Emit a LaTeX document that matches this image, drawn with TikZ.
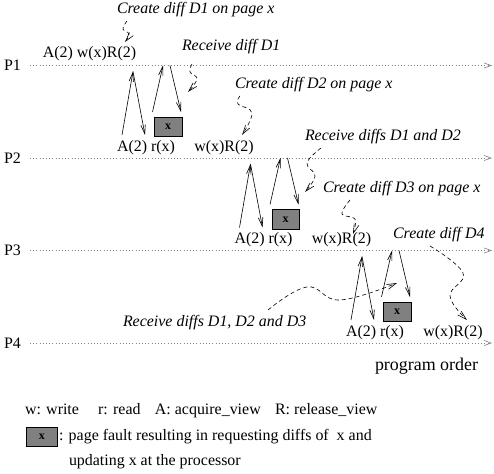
\documentclass[tikz,border=0pt]{standalone}
\usepackage{fontspec}
\setmainfont{Liberation Serif}
\usetikzlibrary{arrows.meta}
\begin{document}
\begin{tikzpicture}[x=1bp,y=-1bp,
  txt/.style={inner sep=0pt,outer sep=0pt,font=\fontsize{16}{19}\selectfont},
  itxt/.style={txt,font=\fontsize{16}{19}\selectfont\itshape},
  pline/.style={gray,line width=0.8bp,dash pattern=on 0.8bp off 2.4bp,-{Straight Barb[length=7bp,width=5bp,line width=0.6bp]}},
  msg/.style={line width=0.6bp,-{Straight Barb[length=9bp,width=4.5bp]}},
  squig/.style={line width=0.6bp,dash pattern=on 4bp off 3bp,-{Straight Barb[length=9bp,width=5bp]}},
  fault/.style={draw=black,fill=black!50,line width=0.6bp,minimum width=27.5bp,minimum height=19bp,inner sep=0pt,font=\fontsize{12}{14}\selectfont\bfseries}
]
\useasboundingbox (0,0) rectangle (494,474);

% process lines
\foreach \i/\y in {1/65.5,2/158,3/250.5,4/343}{
  \node[txt] (P\i) at (12.5,\y) {P\i};
  \coordinate (ps\i) at (30,\y);
  \coordinate (pe\i) at (492,\y);
  \draw[pline] (ps\i) -- (pe\i);
}

% P1 labels
\node[txt] (awr1) at (89.5,54) {A(2) w(x)R(2)};

% blocks
\foreach \b/\dx/\dy in {1/0/0,2/117.5/92.5,3/229/185}{
  \begin{scope}[shift={(\dx,\dy)}]
    \coordinate (a1s\b) at (122,135);
    \coordinate (top1\b) at (133,71.5);
    \coordinate (a2e\b) at (145,135);
    \coordinate (a3s\b) at (152.5,112);
    \coordinate (top2\b) at (163,65.5);
    \coordinate (top3\b) at (170,65.5);
    \coordinate (a4e\b) at (181,112);
    \node[fault,anchor=north west] (box\b) at (154,117) {x};
    \node[txt] (ar\b) at (146,147.5) {A(2) r(x)};
    \node[txt] (wr\b) at (224,147.5) {w(x)R(2)};
    \draw[msg] (a1s\b) -- (top1\b);
    \draw[msg] (top1\b) -- (a2e\b);
    \draw[msg] (a3s\b) -- (top2\b);
    \draw[msg] (top3\b) -- (a4e\b);
  \end{scope}
}

% annotations
\node[itxt,anchor=west] (cD1) at (117,10) {Create diff D1 on page x};
\node[itxt,anchor=west] (rD1) at (182,47) {Receive diff D1};
\node[itxt,anchor=west] (cD2) at (235,85) {Create diff D2 on page x};
\node[itxt,anchor=west] (rD12) at (305,137) {Receive diffs D1 and D2};
\node[itxt,anchor=west] (cD3) at (323,189) {Create diff D3 on page x};
\node[itxt,anchor=west] (cD4) at (393,235) {Create diff D4};
\node[itxt,anchor=west] (rD123) at (123,323) {Receive diffs D1, D2 and D3};

\coordinate (s1a) at (127,21); \coordinate (s1b) at (123,29); \coordinate (s1c) at (129,34); \coordinate (s1d) at (125,42);
\draw[squig] plot[smooth,tension=0.7] coordinates {(s1a) (s1b) (s1c) (s1d)};
\coordinate (s2a) at (192,64); \coordinate (s2b) at (190,72); \coordinate (s2c) at (197,79); \coordinate (s2d) at (188,92);
\draw[squig] plot[smooth,tension=0.7] coordinates {(s2a) (s2b) (s2c) (s2d)};
\coordinate (s3a) at (240,96); \coordinate (s3b) at (238,104); \coordinate (s3c) at (252,113); \coordinate (s3d) at (242,135);
\draw[squig] plot[smooth,tension=0.7] coordinates {(s3a) (s3b) (s3c) (s3d)};
\coordinate (s4a) at (321,148); \coordinate (s4b) at (307,163); \coordinate (s4c) at (315,176); \coordinate (s4d) at (305,192);
\draw[squig] plot[smooth,tension=0.7] coordinates {(s4a) (s4b) (s4c) (s4d)};
\coordinate (s5a) at (350,200); \coordinate (s5b) at (342,214); \coordinate (s5c) at (355,219); \coordinate (s5d) at (353,234);
\draw[squig] plot[smooth,tension=0.7] coordinates {(s5a) (s5b) (s5c) (s5d)};
\coordinate (s6a) at (430,246); \coordinate (s6b) at (463,273); \coordinate (s6c) at (450,296); \coordinate (s6d) at (467,320);
\draw[squig] plot[smooth,tension=0.7] coordinates {(s6a) (s6b) (s6c) (s6d)};
\coordinate (s7a) at (268,310); \coordinate (s7b) at (307,287); \coordinate (s7c) at (340,300); \coordinate (s7d) at (397,283);
\draw[squig] plot[smooth,tension=0.7] coordinates {(s7a) (s7b) (s7c) (s7d)};

\node[txt,anchor=west,font=\fontsize{18}{21}\selectfont] (po) at (375,366) {program order};

% legend
\node[txt,anchor=west] (leg1) at (25,411) {w: write\hspace{1.2em}r: read\hspace{0.9em}A: acquire\_view\hspace{0.9em}R: release\_view};
\node[fault,minimum width=31bp,anchor=north west] (legbox) at (26,427) {x};
\node[txt,anchor=west] (leg2) at (59,437) {: page fault resulting in requesting diffs of\ \ x and};
\node[txt,anchor=west] (leg3) at (69,462) {updating x at the processor};
\end{tikzpicture}
\end{document}
